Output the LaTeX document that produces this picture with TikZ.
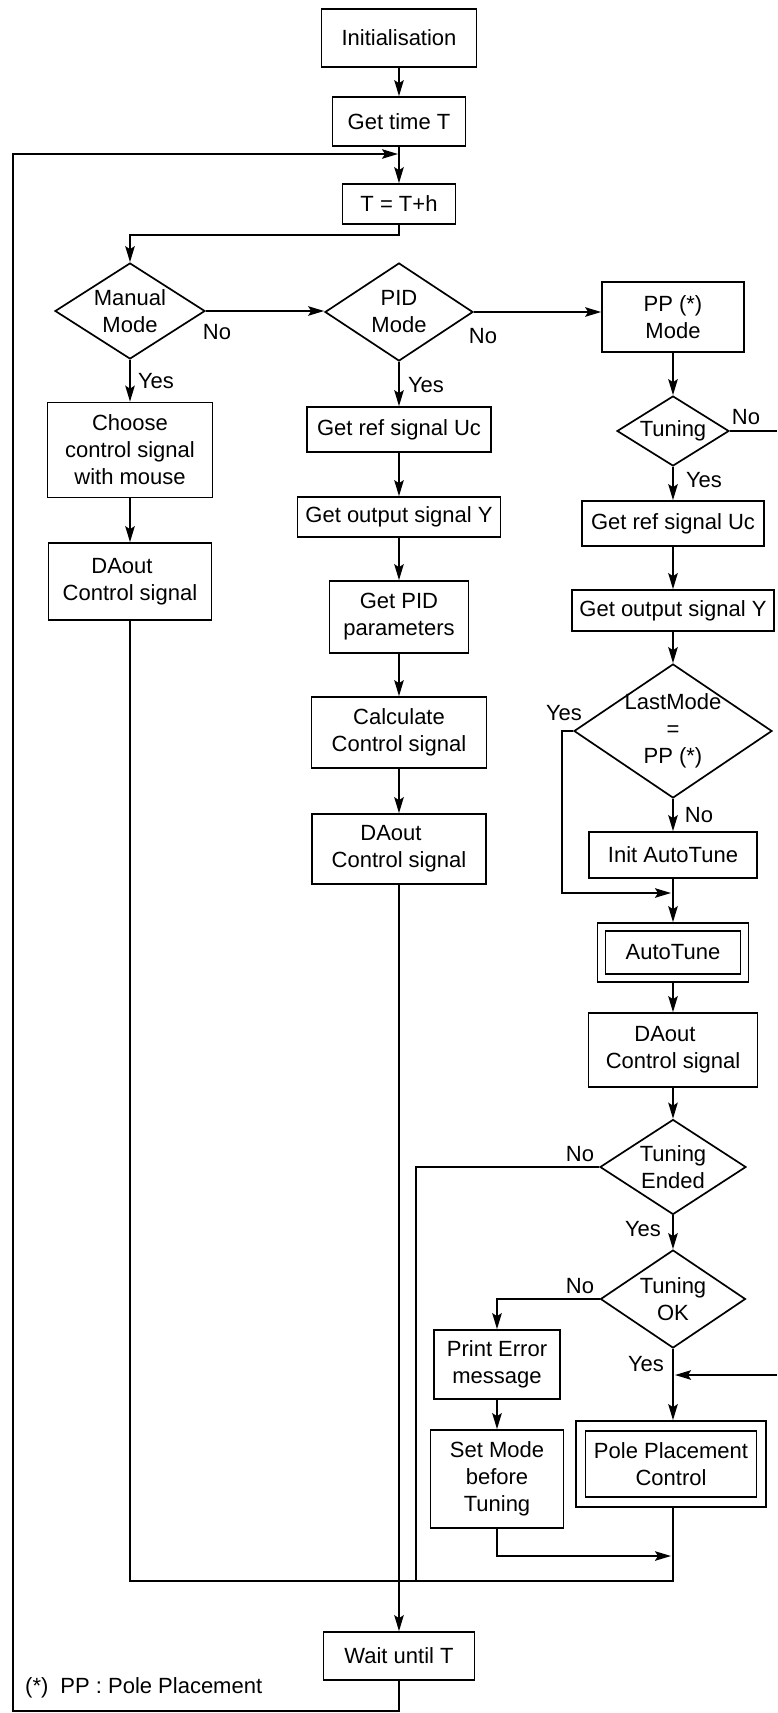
\documentclass[tikz,border=0pt]{standalone}
\usepackage{fontspec}
\setmainfont{Liberation Sans}
\usetikzlibrary{arrows.meta,shapes.geometric,calc}
\begin{document}
\begin{tikzpicture}[x=1pt,y=-1pt,
  every node/.style={font=\fontsize{22}{27}\selectfont},
  box/.style={draw, line width=1.7pt, rectangle, inner sep=0pt, align=center},
  dia/.style={draw, line width=1.7pt, diamond, inner sep=0pt},
  txt/.style={inner sep=0pt, align=center},
  lbl/.style={inner sep=0pt},
  line/.style={line width=1.7pt},
  arr/.style={line width=1.7pt, -{Stealth[length=16pt,width=9.5pt,inset=3pt]}},
]
\useasboundingbox (0,0) rectangle (777,1713);

% main column
\node[box, minimum width=155, minimum height=58] (init) at (399,38) {Initialisation};
\node[box, minimum width=133, minimum height=49] (gettime) at (399,121.5) {Get time T};
\node[box, minimum width=113, minimum height=40] (tth) at (399,204) {T = T+h};

% diamonds of mode selection
\node[dia, minimum width=150, minimum height=96] (manual) at (130,311) {};
\node[txt] (manualt) at (manual) {Manual\\Mode};
\node[dia, minimum width=148, minimum height=98] (pid) at (399,312) {};
\node[txt] (pidt) at (pid) {PID\\Mode};
\node[box, minimum width=142, minimum height=70] (ppmode) at (673,317) {PP (*)\\Mode};

% left column
\node[box, minimum width=165, minimum height=95] (choose) at (130,450) {Choose\\control signal\\with mouse};
\node[box, minimum width=163, minimum height=77] (mdaout) at (130,581.5) {DAout\hspace*{16pt}\\Control signal};

% PID column
\node[box, minimum width=184, minimum height=45] (pidref) at (399,429.5) {Get ref signal Uc};
\node[box, minimum width=203, minimum height=40] (pidout) at (399,517) {Get output signal Y};
\node[box, minimum width=139, minimum height=72] (pidparams) at (399,617) {Get PID\\parameters};
\node[box, minimum width=175, minimum height=71] (calc) at (399,732.5) {Calculate\\Control signal};
\node[box, minimum width=174, minimum height=70] (piddaout) at (399,849) {DAout\hspace*{16pt}\\Control signal};
\node[box, minimum width=151, minimum height=48] (wait) at (399,1656) {Wait until T};

% PP column
\node[dia, minimum width=112, minimum height=70] (tuning) at (673,431) {};
\node[txt] (tuningt) at (tuning) {Tuning};
\node[box, minimum width=182, minimum height=45] (ppref) at (673,523.5) {Get ref signal Uc};
\node[box, minimum width=202, minimum height=41] (ppout) at (673,610.5) {Get output signal Y};
\node[dia, minimum width=198, minimum height=134] (lastmode) at (673,731) {};
\node[txt] (lastmodet) at (lastmode) {LastMode\\=\\PP (*)};
\node[box, minimum width=168, minimum height=46] (initat) at (673,855) {Init AutoTune};
\node[box, minimum width=151, minimum height=59] (autotune) at (673,952.5) {};
\node[box, minimum width=135, minimum height=43] (autotunein) at (autotune) {AutoTune};
\node[box, minimum width=169, minimum height=74] (ppdaout) at (673,1050) {DAout\hspace*{16pt}\\Control signal};
\node[dia, minimum width=146, minimum height=95] (tended) at (673,1167) {};
\node[txt] (tendedt) at (tended) {Tuning\\Ended};
\node[dia, minimum width=145, minimum height=98] (tok) at (673,1299) {};
\node[txt] (tokt) at (tok) {Tuning\\OK};
\node[box, minimum width=126, minimum height=69] (printerr) at (497,1364.5) {Print Error\\message};
\node[box, minimum width=133, minimum height=98] (setmode) at (497,1479) {Set Mode\\before\\Tuning};
\node[box, minimum width=190, minimum height=86] (ppc) at (671,1464) {};
\node[box, minimum width=171, minimum height=66] (ppcin) at (ppc) {Pole Placement\\Control};

% labels
\node[lbl] (l1) at (217,332) {No};
\node[lbl] (l2) at (483,336) {No};
\node[lbl] (l3) at (156,381) {Yes};
\node[lbl] (l4) at (426,385) {Yes};
\node[lbl] (l5) at (746,417) {No};
\node[lbl] (l6) at (704,480) {Yes};
\node[lbl] (l7) at (564,713) {Yes};
\node[lbl] (l8) at (699,815) {No};
\node[lbl] (l9) at (580,1154) {No};
\node[lbl] (l10) at (643,1229) {Yes};
\node[lbl] (l11) at (580,1286) {No};
\node[lbl] (l12) at (646,1364) {Yes};
\node[lbl, anchor=west] (foot) at (25,1688) {(*)\hspace{12pt}PP : Pole Placement};

% coordinates
\coordinate (j1) at (130,235);
\coordinate (lp1) at (13,1711);
\coordinate (lp3) at (398,154);
\coordinate (jn) at (416,1581);
\coordinate (re1) at (777,431);
\coordinate (re2) at (777,1375);
\coordinate (jt) at (675,1375);
\coordinate (ly1) at (562,731);
\coordinate (ly2) at (671,893);
\coordinate (sm1) at (671,1556);

% connectors
\draw[arr] (init) -- (gettime);
\draw[arr] (gettime) -- (tth);
\draw[arr] (tth.south) |- (j1) -- (manual.north);
\draw[arr] (manual.east) -- (manual.east -| pid.west);
\draw[arr] (pid.east) -- (pid.east -| ppmode.west);
\draw[arr] (manual) -- (choose);
\draw[arr] (choose) -- (mdaout);
\draw[line] (mdaout.south) |- (jn);
\draw[arr] (pid) -- (pidref);
\draw[arr] (pidref) -- (pidout);
\draw[arr] (pidout) -- (pidparams);
\draw[arr] (pidparams) -- (calc);
\draw[arr] (calc) -- (piddaout);
\draw[arr] (piddaout) -- (wait);
\draw[arr] (wait.south) |- (lp1) |- (lp3);
\draw[arr] (ppmode) -- (tuning);
\draw[line] (tuning.east) -- (re1);
\draw[arr] (tuning) -- (ppref);
\draw[arr] (ppref) -- (ppout);
\draw[arr] (ppout) -- (lastmode);
\draw[arr] (lastmode.west) -- (ly1) |- (ly2);
\draw[arr] (lastmode) -- (initat);
\draw[arr] (initat) -- (autotune);
\draw[arr] (autotune) -- (ppdaout);
\draw[arr] (ppdaout) -- (tended);
\draw[line] (tended.west) -| (jn);
\draw[arr] (tended) -- (tok);
\draw[arr] (tok.west) -| (printerr.north);
\draw[arr] (tok.south) -- (tok.south |- ppc.north);
\draw[arr] (re2) -- (jt);
\draw[arr] (printerr) -- (setmode);
\draw[arr] (setmode.south) |- (sm1);
\draw[line] (ppc.south -| tok.south) |- (jn);
\end{tikzpicture}
\end{document}
